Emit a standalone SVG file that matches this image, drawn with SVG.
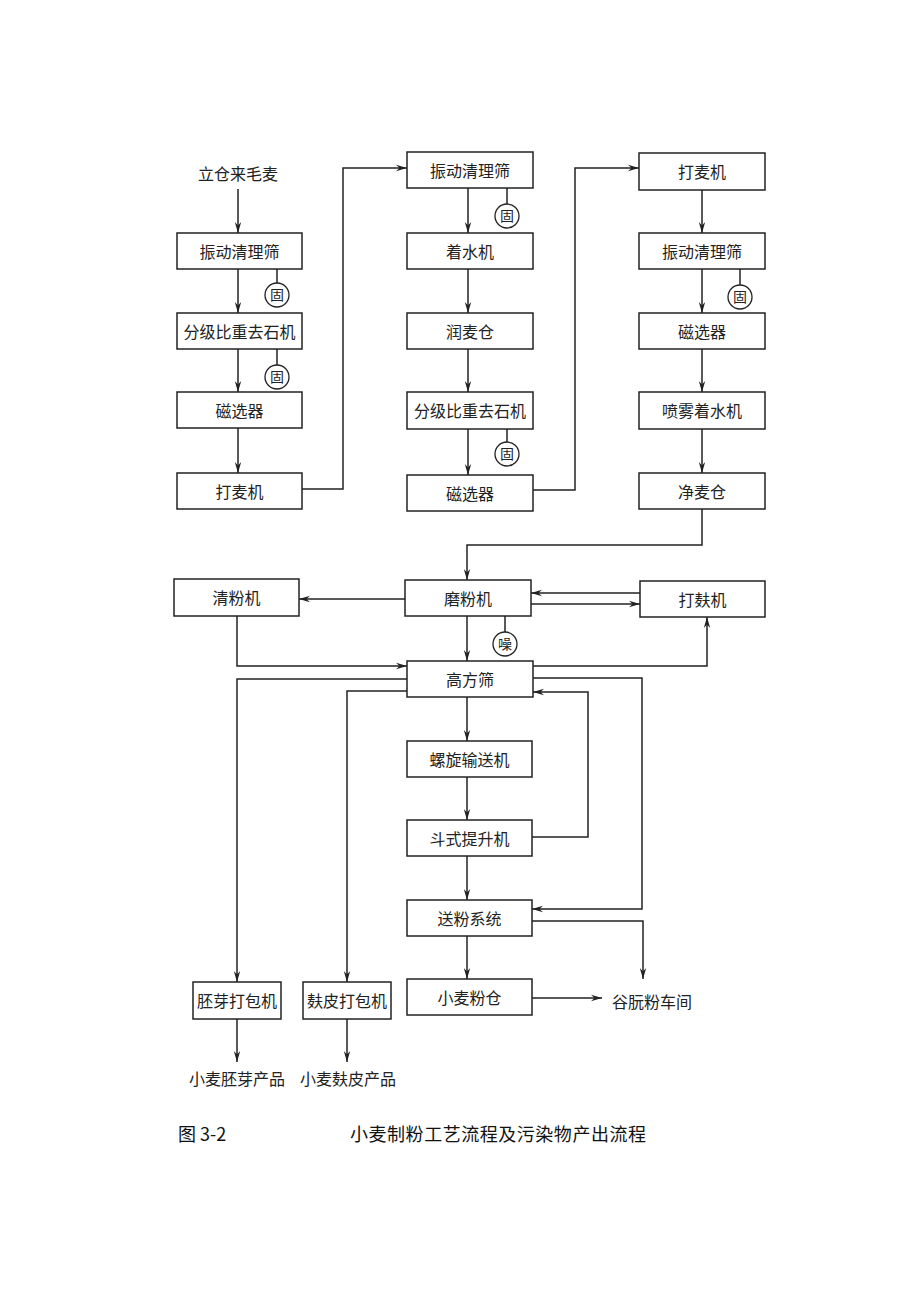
<svg xmlns="http://www.w3.org/2000/svg" width="920" height="1302" viewBox="0 0 920 1302">
<defs>
<style>
.box{fill:#fff;stroke:#222;stroke-width:1.5}
.t{font-family:"Noto Sans CJK SC","Liberation Serif",serif;font-size:16px;fill:#222;text-anchor:middle}
.tl{font-family:"Noto Sans CJK SC","Liberation Serif",serif;font-size:16px;fill:#222}
.ln{fill:none;stroke:#222;stroke-width:1.5}
.ar{fill:none;stroke:#222;stroke-width:1.5;marker-end:url(#ah)}
.cir{fill:#fff;stroke:#222;stroke-width:1.3}
.ct{font-family:"Noto Sans CJK SC","Liberation Serif",serif;font-size:14px;fill:#222;text-anchor:middle}
.cap{font-family:"Noto Sans CJK SC","Liberation Sans",sans-serif;font-size:18px;fill:#111;font-weight:normal}
</style>
<marker id="ah" markerWidth="12" markerHeight="8" refX="11" refY="4" orient="auto" markerUnits="userSpaceOnUse">
<path d="M0,0.8 L11,4 L0,7.2 L3.5,4 z" fill="#222"/>
</marker>
</defs>
<rect width="920" height="1302" fill="#fff"/>

<g id="connectors">
<line class="ar" x1="238" y1="189" x2="238" y2="233"/>
<line class="ar" x1="238" y1="269" x2="238" y2="313"/>
<line class="ar" x1="238" y1="349" x2="238" y2="392"/>
<line class="ar" x1="238" y1="428" x2="238" y2="473"/>
<polyline class="ar" points="302,489 343,489 343,168 407,168"/>
<line class="ar" x1="468" y1="188" x2="468" y2="233"/>
<line class="ar" x1="468" y1="269" x2="468" y2="313"/>
<line class="ar" x1="468" y1="349" x2="468" y2="392"/>
<line class="ar" x1="468" y1="429" x2="468" y2="475"/>
<polyline class="ar" points="533,490 575,490 575,168 639,168"/>
<line class="ar" x1="702" y1="190" x2="702" y2="233"/>
<line class="ar" x1="702" y1="269" x2="702" y2="313"/>
<line class="ar" x1="702" y1="349" x2="702" y2="392"/>
<line class="ar" x1="702" y1="429" x2="702" y2="473"/>
<polyline class="ar" points="702,509 702,545 467,545 467,580"/>
<line class="ar" x1="405" y1="599" x2="299" y2="599"/>
<line class="ar" x1="640" y1="593" x2="531" y2="593"/>
<line class="ar" x1="531" y1="604" x2="640" y2="604"/>
<line class="ar" x1="467" y1="616" x2="467" y2="661"/>
<polyline class="ar" points="237,616 237,666 407,666"/>
<polyline class="ar" points="533,666 707,666 707,617"/>
<polyline class="ar" points="407,679 237,679 237,982"/>
<polyline class="ar" points="533,678 642,678 642,909 532,909"/>
<polyline class="ar" points="407,691 347,691 347,982"/>
<polyline class="ar" points="532,837 588,837 588,692 533,692"/>
<line class="ar" x1="467" y1="697" x2="467" y2="741"/>
<line class="ar" x1="467" y1="777" x2="467" y2="820"/>
<line class="ar" x1="467" y1="856" x2="467" y2="900"/>
<polyline class="ar" points="532,921 643,921 643,979"/>
<line class="ar" x1="467" y1="936" x2="467" y2="979"/>
<line class="ar" x1="532" y1="998" x2="602" y2="998"/>
<line class="ar" x1="237" y1="1019" x2="237" y2="1062"/>
<line class="ar" x1="347" y1="1019" x2="347" y2="1062"/>
<!-- pollutant tags -->
<line class="ln" x1="277" y1="269" x2="277" y2="283"/>
<line class="ln" x1="277" y1="349" x2="277" y2="365"/>
<line class="ln" x1="507" y1="188" x2="507" y2="204"/>
<line class="ln" x1="507" y1="429" x2="507" y2="442"/>
<line class="ln" x1="740" y1="269" x2="740" y2="285"/>
<line class="ln" x1="505" y1="616" x2="505" y2="632"/>
</g>

<g id="p1"><circle class="cir" cx="277" cy="295" r="12"/><text class="ct" x="277" y="300">固</text></g>
<g id="p2"><circle class="cir" cx="277" cy="377" r="12"/><text class="ct" x="277" y="382">固</text></g>
<g id="p3"><circle class="cir" cx="507" cy="216" r="12"/><text class="ct" x="507" y="221">固</text></g>
<g id="p4"><circle class="cir" cx="507" cy="454" r="12"/><text class="ct" x="507" y="459">固</text></g>
<g id="p5"><circle class="cir" cx="740" cy="297" r="12"/><text class="ct" x="740" y="302">固</text></g>
<g id="p6"><circle class="cir" cx="505" cy="644" r="12"/><text class="ct" x="505" y="649">噪</text></g>

<g id="n-start"><text class="t" x="238" y="180">立仓来毛麦</text></g>
<g id="n1"><rect class="box" x="177" y="233" width="125" height="36"/><text class="t" x="239.5" y="258">振动清理筛</text></g>
<g id="n2"><rect class="box" x="177" y="313" width="125" height="36"/><text class="t" x="239.5" y="338">分级比重去石机</text></g>
<g id="n3"><rect class="box" x="177" y="392" width="125" height="36"/><text class="t" x="239.5" y="417">磁选器</text></g>
<g id="n4"><rect class="box" x="177" y="473" width="125" height="36"/><text class="t" x="239.5" y="498">打麦机</text></g>

<g id="n5"><rect class="box" x="407" y="152" width="126" height="36"/><text class="t" x="470" y="177">振动清理筛</text></g>
<g id="n6"><rect class="box" x="407" y="233" width="126" height="36"/><text class="t" x="470" y="258">着水机</text></g>
<g id="n7"><rect class="box" x="407" y="313" width="126" height="36"/><text class="t" x="470" y="338">润麦仓</text></g>
<g id="n8"><rect class="box" x="407" y="392" width="126" height="37"/><text class="t" x="470" y="417">分级比重去石机</text></g>
<g id="n9"><rect class="box" x="407" y="475" width="126" height="36"/><text class="t" x="470" y="500">磁选器</text></g>

<g id="n10"><rect class="box" x="639" y="153" width="126" height="37"/><text class="t" x="702" y="178">打麦机</text></g>
<g id="n11"><rect class="box" x="639" y="233" width="126" height="36"/><text class="t" x="702" y="258">振动清理筛</text></g>
<g id="n12"><rect class="box" x="639" y="313" width="126" height="36"/><text class="t" x="702" y="338">磁选器</text></g>
<g id="n13"><rect class="box" x="639" y="392" width="126" height="37"/><text class="t" x="702" y="417">喷雾着水机</text></g>
<g id="n14"><rect class="box" x="639" y="473" width="126" height="36"/><text class="t" x="702" y="498">净麦仓</text></g>

<g id="n15"><rect class="box" x="174" y="579" width="125" height="37"/><text class="t" x="236.5" y="604">清粉机</text></g>
<g id="n16"><rect class="box" x="405" y="580" width="126" height="36"/><text class="t" x="468" y="605">磨粉机</text></g>
<g id="n17"><rect class="box" x="640" y="581" width="125" height="36"/><text class="t" x="702.5" y="606">打麸机</text></g>
<g id="n18"><rect class="box" x="407" y="661" width="126" height="36"/><text class="t" x="470" y="686">高方筛</text></g>
<g id="n19"><rect class="box" x="407" y="741" width="125" height="36"/><text class="t" x="469.5" y="766">螺旋输送机</text></g>
<g id="n20"><rect class="box" x="407" y="820" width="125" height="36"/><text class="t" x="469.5" y="845">斗式提升机</text></g>
<g id="n21"><rect class="box" x="407" y="900" width="125" height="36"/><text class="t" x="469.5" y="925">送粉系统</text></g>
<g id="n22"><rect class="box" x="407" y="979" width="125" height="36"/><text class="t" x="469.5" y="1004">小麦粉仓</text></g>
<g id="n23"><text class="tl" x="612" y="1008">谷朊粉车间</text></g>
<g id="n24"><rect class="box" x="193" y="982" width="88" height="37"/><text class="t" x="237" y="1007">胚芽打包机</text></g>
<g id="n25"><rect class="box" x="303" y="982" width="88" height="37"/><text class="t" x="347" y="1007">麸皮打包机</text></g>
<g id="n26"><text class="t" x="237" y="1085">小麦胚芽产品</text></g>
<g id="n27"><text class="t" x="348" y="1085">小麦麸皮产品</text></g>

<g id="caption">
<text class="cap" x="178" y="1141">图 3-2</text>
<text class="cap" x="350" y="1141" textLength="296">小麦制粉工艺流程及污染物产出流程</text>
</g>
</svg>
